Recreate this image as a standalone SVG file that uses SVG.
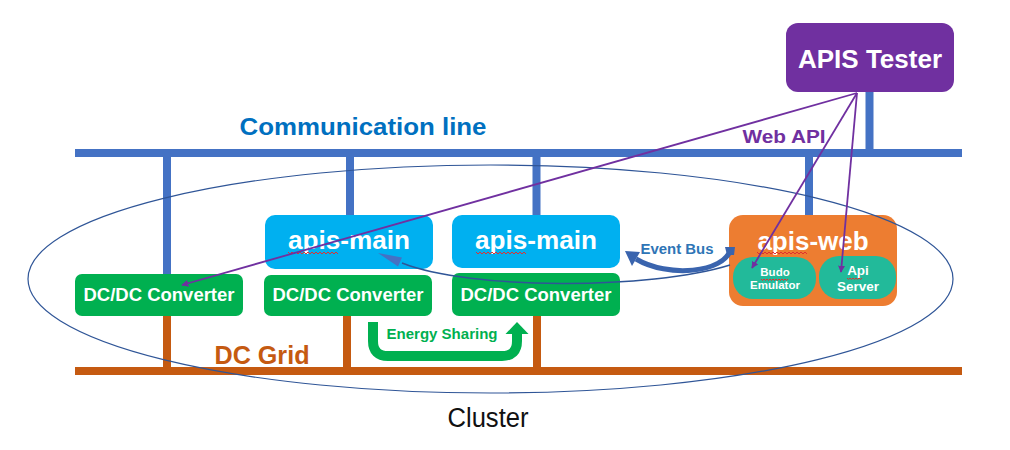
<svg xmlns="http://www.w3.org/2000/svg" width="1010" height="450" viewBox="0 0 1010 450">
<defs>
<style>
.t{font-family:"Liberation Sans","Noto Sans",Arial,sans-serif;font-weight:bold;fill:#fff;text-anchor:middle}
.comm{stroke:#4472C4;stroke-width:8;fill:none}
.grid{stroke:#C55A11;stroke-width:8;fill:none}
.api{stroke:#7030A0;stroke-width:1.8;fill:none}
.sq{stroke:#E03030;stroke-width:1;fill:none}
.dc{font-size:17.5px}
</style>
<marker id="pa" viewBox="0 0 10 10" refX="9" refY="5" markerWidth="7" markerHeight="7" markerUnits="userSpaceOnUse" orient="auto">
<path d="M0,0 L10,5 L0,10 z" fill="#7030A0"/>
</marker>
</defs>
<rect width="1010" height="450" fill="#fff"/>

<g id="communication-line">
<path class="comm" d="M75,153 H962 M167,157 V274 M350,157 V215 M536.5,157 V215 M809,157 V215 M869.5,92 V149"/>
<text x="363" y="135" class="t" style="fill:#0070C0;font-size:24px" textLength="247" lengthAdjust="spacingAndGlyphs">Communication line</text>
</g>

<g id="dc-grid">
<path class="grid" d="M75,371 H962 M167,316 V367 M347,316 V367 M537,316 V367"/>
<text x="262" y="364" class="t" style="fill:#C55A11;font-size:25px" textLength="95" lengthAdjust="spacingAndGlyphs">DC Grid</text>
</g>

<g id="apis-tester">
<rect x="786" y="23" width="168" height="69" rx="12" fill="#7030A0"/>
<text x="870" y="68" class="t" style="font-size:26px">APIS Tester</text>
</g>

<g id="apis-main-1">
<rect x="265" y="215" width="168" height="54" rx="10" fill="#00B0F0"/>
<text x="349" y="249" class="t" style="font-size:25px" textLength="122" lengthAdjust="spacingAndGlyphs">apis-main</text>
<path class="sq" d="M288,252 l2,2 l2,-2 l2,2 l2,-2 l2,2 l2,-2 l2,2 l2,-2 l2,2 l2,-2 l2,2 l2,-2 l2,2 l2,-2 l2,2 l2,-2 l2,2 l2,-2 l2,2 l2,-2 l2,2 l2,-2 l2,2 l2,-2 l2,2"/>
</g>

<g id="apis-main-2">
<rect x="452" y="215" width="168" height="53" rx="10" fill="#00B0F0"/>
<text x="536" y="249" class="t" style="font-size:25px" textLength="122" lengthAdjust="spacingAndGlyphs">apis-main</text>
<path class="sq" d="M476,252 l2,2 l2,-2 l2,2 l2,-2 l2,2 l2,-2 l2,2 l2,-2 l2,2 l2,-2 l2,2 l2,-2 l2,2 l2,-2 l2,2 l2,-2 l2,2 l2,-2 l2,2 l2,-2 l2,2 l2,-2 l2,2 l2,-2 l2,2"/>
</g>

<g id="dcdc-1">
<rect x="75" y="274" width="168" height="42" rx="7" fill="#00B050"/>
<text x="159" y="301" class="t dc" textLength="151" lengthAdjust="spacingAndGlyphs">DC/DC Converter</text>
</g>
<g id="dcdc-2">
<rect x="264" y="275" width="168" height="41" rx="7" fill="#00B050"/>
<text x="348" y="301" class="t dc" textLength="151" lengthAdjust="spacingAndGlyphs">DC/DC Converter</text>
</g>
<g id="dcdc-3">
<rect x="452" y="273" width="168" height="43" rx="7" fill="#00B050"/>
<text x="536" y="301" class="t dc" textLength="151" lengthAdjust="spacingAndGlyphs">DC/DC Converter</text>
</g>

<g id="apis-web">
<rect x="729" y="215" width="168" height="91" rx="14" fill="#ED7D31"/>
<text x="813" y="250" class="t" style="font-size:26px">apis-web</text>
<path class="sq" d="M757,252 l2,2 l2,-2 l2,2 l2,-2 l2,2 l2,-2 l2,2 l2,-2 l2,2 l2,-2 l2,2 l2,-2 l2,2 l2,-2 l2,2 l2,-2 l2,2 l2,-2 l2,2 l2,-2 l2,2 l2,-2 l2,2 l2,-2 l2,2"/>
</g>
<g id="budo-emulator">
<rect x="733" y="257" width="83" height="42" rx="20" fill="#22BA9A"/>
<text x="775" y="276" class="t" style="font-size:11.5px">Budo</text>
<text x="775" y="289" class="t" style="font-size:11.5px">Emulator</text>
<path class="sq" d="M761,279 l1.5,1.5 l1.5,-1.5 l1.5,1.5 l1.5,-1.5 l1.5,1.5 l1.5,-1.5 l1.5,1.5 l1.5,-1.5 l1.5,1.5 l1.5,-1.5 l1.5,1.5 l1.5,-1.5 l1.5,1.5 l1.5,-1.5 l1.5,1.5 l1.5,-1.5 l1.5,1.5 l1.5,-1.5"/>
</g>
<g id="api-server">
<rect x="819" y="256" width="77" height="43" rx="20" fill="#22BA9A"/>
<text x="858" y="275" class="t" style="font-size:13.5px">Api</text>
<text x="858" y="291" class="t" style="font-size:13.5px">Server</text>
<path class="sq" d="M847,278 l1.5,1.5 l1.5,-1.5 l1.5,1.5 l1.5,-1.5 l1.5,1.5 l1.5,-1.5 l1.5,1.5 l1.5,-1.5 l1.5,1.5 l1.5,-1.5"/>
</g>

<g id="cluster">
<ellipse cx="490.5" cy="279" rx="462.5" ry="114" fill="none" stroke="#2F5597" stroke-width="1.2"/>
<text x="488" y="427" style="font-family:'Liberation Sans','Noto Sans',sans-serif;font-size:27px;fill:#111;text-anchor:middle" textLength="81" lengthAdjust="spacingAndGlyphs">Cluster</text>
</g>

<g id="connectors">
<g id="energy-sharing">
<path d="M373,322 V341 Q373,356 388,356 H502 Q517,356 517,341 V333" stroke="#00B050" stroke-width="10" fill="none"/>
<polygon points="505.5,334 528.5,334 517,322" fill="#00B050"/>
<text x="442" y="339" class="t" style="fill:#00B050;font-size:14.5px" textLength="111" lengthAdjust="spacingAndGlyphs">Energy Sharing</text>
</g>
<g id="event-bus">
<path d="M730,265 C650,290 470,290 402,263" stroke="#2F5597" stroke-width="1.5" fill="none"/>
<polygon points="378,253 402,257.5 398,266.5" fill="#4472C4"/>
<path d="M731,249 C724,273 668,278 636,259" stroke="#3A64AE" stroke-width="5" fill="none"/>
<polygon points="725,247 735,247 734,255 727,255" fill="#3A64AE"/>
<polygon points="625,251 640,252 632,266" fill="#3A64AE"/>
<text x="677" y="254" class="t" style="fill:#2E75B6;font-size:14.5px" textLength="73" lengthAdjust="spacingAndGlyphs">Event Bus</text>
</g>
<g id="web-api">
<line class="api" x1="857" y1="93" x2="182" y2="285" marker-end="url(#pa)"/>
<line class="api" x1="857" y1="93" x2="752" y2="268" marker-end="url(#pa)"/>
<line class="api" x1="857" y1="93" x2="841" y2="272" marker-end="url(#pa)"/>
<text x="784" y="143" class="t" style="fill:#7030A0;font-size:19px" textLength="83" lengthAdjust="spacingAndGlyphs">Web API</text>
</g>
</g>
</svg>
